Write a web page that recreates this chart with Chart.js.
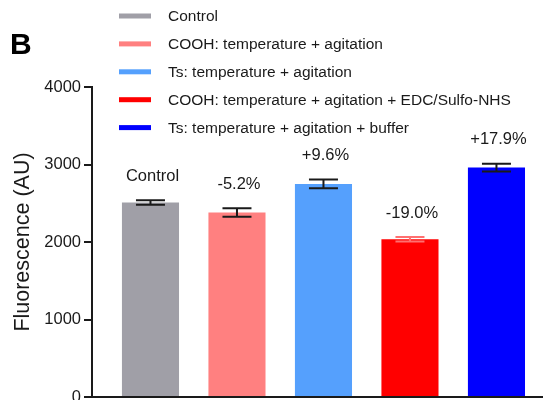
<!DOCTYPE html>
<html><head><meta charset="utf-8">
<script src="https://cdn.jsdelivr.net/npm/chart.js@4"></script>
<style>
html,body{margin:0;padding:0;overflow:hidden;background:#fff;width:543px;height:400px}
canvas{display:block}
</style>
</head><body>
<canvas id="c" width="543" height="425"></canvas>
<script>
const categories = [
  "Control",
  "COOH: temperature + agitation",
  "Ts: temperature + agitation",
  "COOH: temperature + agitation + EDC/Sulfo-NHS",
  "Ts: temperature + agitation + buffer"
];
const fluorescence = [2510, 2380, 2750, 2035, 2960];
const errors = [30, 55, 58, 30, 50];
const annotations = ["Control", "-5.2%", "+9.6%", "-19.0%", "+17.9%"];
const yTicks = [0, 1000, 2000, 3000, 4000];
const barColors = ["#a09fa7", "#ff8080", "#55a0fd", "#ff0000", "#0000ff"];
const errorColors = ["#1a1a1a", "#1a1a1a", "#1a1a1a", "#ff7070", "#1a1a1a"];
const panelLabel = "B";
const yTitle = "Fluorescence (AU)";

const FONT = "Arial, 'Liberation Sans', sans-serif";
const INK = "#1a1a1a";

const errorBarPlugin = {
  id: 'errorBars',
  afterDatasetsDraw(chart) {
    const {ctx, scales: {x, y}} = chart;
    ctx.save();
    ctx.lineWidth = 2;
    fluorescence.forEach((v, i) => {
      const cx = x.getPixelForValue(i);
      const yt = y.getPixelForValue(v + errors[i]);
      const yb = y.getPixelForValue(v - errors[i]);
      ctx.strokeStyle = errorColors[i];
      ctx.beginPath();
      ctx.moveTo(cx, yt); ctx.lineTo(cx, yb);
      ctx.moveTo(cx - 14.5, yt); ctx.lineTo(cx + 14.5, yt);
      ctx.moveTo(cx - 14.5, yb); ctx.lineTo(cx + 14.5, yb);
      ctx.stroke();
      ctx.fillStyle = INK;
      ctx.font = "16.5px " + FONT;
      ctx.textAlign = 'center';
      ctx.textBaseline = 'middle';
      ctx.fillText(annotations[i], cx + 2, yt - 24);
    });
    ctx.restore();
  }
};

const legendPlugin = {
  id: 'customLegend',
  afterDraw(chart) {
    const {ctx} = chart;
    ctx.save();
    categories.forEach((label, i) => {
      const yc = 16 + i * 27.9;
      ctx.fillStyle = barColors[i];
      ctx.fillRect(119, yc - 2.5, 32, 5);
      ctx.fillStyle = INK;
      ctx.font = "15.5px " + FONT;
      ctx.textAlign = 'left';
      ctx.textBaseline = 'middle';
      ctx.fillText(label, 168, yc + 1);
    });
    ctx.fillStyle = "#000";
    ctx.font = "bold 30px " + FONT;
    ctx.textAlign = 'left';
    ctx.textBaseline = 'alphabetic';
    ctx.fillText(panelLabel, 10, 54);
    ctx.restore();
  }
};

new Chart(document.getElementById('c'), {
  type: 'bar',
  data: {
    datasets: [{
      label: yTitle,
      data: fluorescence.map((v, i) => ({x: i, y: v})),
      backgroundColor: barColors,
      borderWidth: 0,
      barPercentage: 0.66,
      categoryPercentage: 1
    }]
  },
  options: {
    responsive: false,
    animation: false,
    events: [],
    layout: {padding: {top: 87, left: 0, right: 0, bottom: 20}},
    plugins: {legend: {display: false}, tooltip: {enabled: false}},
    scales: {
      x: {
        type: 'linear',
        min: -0.676,
        max: 4.538,
        offset: false,
        grid: {display: false},
        ticks: {display: false},
        border: {display: true, color: INK, width: 2}
      },
      y: {
        min: 0,
        max: 4000,
        afterBuildTicks(scale) { scale.ticks = yTicks.map(v => ({value: v})); },
        ticks: {color: INK, font: {size: 16.5, family: FONT}, padding: 3, callback: v => String(v)},
        grid: {display: true, drawOnChartArea: false, drawTicks: true, tickLength: 8, color: INK, lineWidth: 2},
        border: {display: true, color: INK, width: 2},
        title: {display: true, text: yTitle, color: INK, font: {size: 21.5, family: FONT}, padding: {top: 10, bottom: 5.5}}
      }
    }
  },
  plugins: [errorBarPlugin, legendPlugin]
});
</script>
</body></html>
